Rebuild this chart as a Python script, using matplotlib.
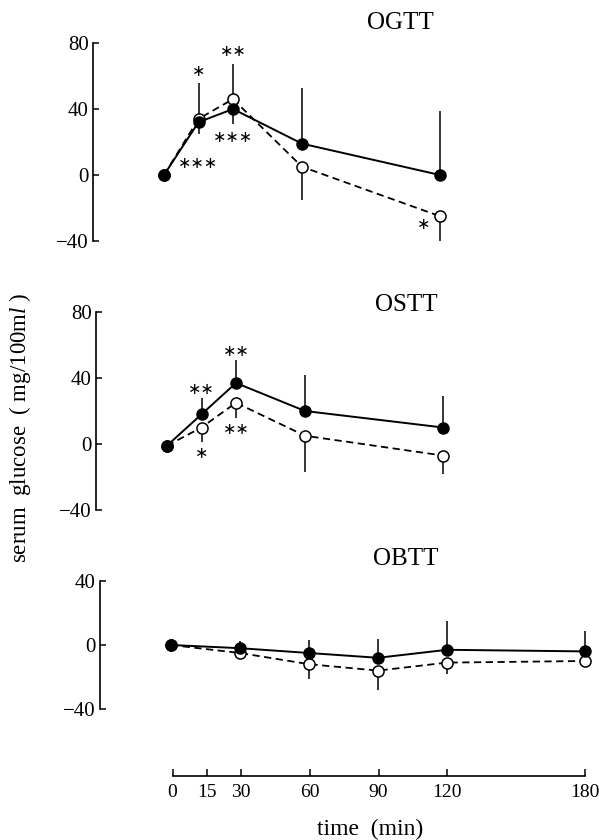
import matplotlib
matplotlib.use('Agg')
import matplotlib.pyplot as plt

plt.rcParams['font.family'] = ['Liberation Serif', 'DejaVu Serif']
plt.rcParams['mathtext.fontset'] = 'custom'
plt.rcParams['mathtext.rm'] = 'Liberation Serif'
plt.rcParams['mathtext.it'] = 'Liberation Serif:italic'

W, H = 599, 840

# OGTT
ogtt_time = [0, 15, 30, 60, 120]
ogtt_filled = [0, 32, 40, 19, 0]
ogtt_filled_up = [0, 24, 0, 34, 39]
ogtt_filled_down = [0, 0, 9, 0, 0]
ogtt_open = [0, 34, 46, 5, -25]
ogtt_open_up = [0, 0, 21, 0, 0]
ogtt_open_down = [0, 9, 0, 20, 16]

# OSTT
ostt_time = [0, 15, 30, 60, 120]
ostt_filled = [-1, 18, 37, 20, 10]
ostt_filled_up = [0, 10, 14, 22, 19]
ostt_open = [-1, 10, 25, 5, -7]
ostt_open_down = [0, 9, 9, 22, 11]

# OBTT
obtt_time = [0, 30, 60, 90, 120, 180]
obtt_filled = [0, -2, -5, -8, -3, -4]
obtt_filled_up = [0, 4.5, 8, 12, 18, 12.5]
obtt_open = [0, -5, -12, -16, -11, -10]
obtt_open_down = [0, 4, 9, 12, 7, 0]

# significance marks: (time, value, text)
ogtt_marks = [(15, 63, '∗'), (30, 75, '∗∗'), (30, 23, '∗∗∗'), (15, 7, '∗∗∗'), (113, -30, '∗')]
ostt_marks = [(15, 33, '∗∗'), (15, -5.5, '∗'), (30, 56, '∗∗'), (30, 8.5, '∗∗')]

time_ticks = [0, 15, 30, 60, 90, 120, 180]

fig = plt.figure(figsize=(W / 100, H / 100), dpi=100)

SX = 2.30  # px per minute
XLIM = (-31, 185)


def make_axes(x0_px, ylim, y_top_px, y_bot_px):
    left = x0_px + XLIM[0] * SX
    right = x0_px + XLIM[1] * SX
    ax = fig.add_axes([left / W, 1 - y_bot_px / H, (right - left) / W, (y_bot_px - y_top_px) / H])
    ax.set_xlim(*XLIM)
    ax.set_ylim(*ylim)
    for s in ['top', 'right', 'bottom']:
        ax.spines[s].set_visible(False)
    ax.spines['left'].set_linewidth(1.2)
    ax.set_xticks([])
    ax.tick_params(axis='y', direction='in', length=4, width=1.1, labelsize=15, pad=3)
    ax.patch.set_alpha(0)
    return ax


def draw(ax, t, filled, f_lo, f_hi, opn, o_lo, o_hi):
    ax.errorbar(t, filled, yerr=[f_lo, f_hi], fmt='none', ecolor='black', elinewidth=1.1, capsize=0, zorder=2)
    ax.errorbar(t, opn, yerr=[o_lo, o_hi], fmt='none', ecolor='black', elinewidth=1.1, capsize=0, zorder=2)
    ax.plot(t, opn, color='black', lw=1.3, ls=(0, (4, 2.5)), marker='o', ms=8,
            mfc='white', mec='black', mew=1.1, zorder=3)
    ax.plot(t, filled, color='black', lw=1.4, ls='-', marker='o', ms=8,
            mfc='black', mec='black', zorder=4)


def stars(ax, marks):
    for x, y, s in marks:
        ax.text(x, y, s, ha='center', va='center', fontsize=11.5, family=['DejaVu Sans'],
                clip_on=False)


zeros5 = [0] * 5
zeros6 = [0] * 6

ax1 = make_axes(164, (-40, 80), 43, 241)
ax1.set_yticks([-40, 0, 40, 80])
draw(ax1, ogtt_time, ogtt_filled, ogtt_filled_down, ogtt_filled_up,
     ogtt_open, ogtt_open_down, ogtt_open_up)
stars(ax1, ogtt_marks)
ax1.text(102.6, 92, 'OGTT', ha='center', va='center', fontsize=18, clip_on=False)

ax2 = make_axes(167, (-40, 80), 312, 510)
ax2.set_yticks([-40, 0, 40, 80])
draw(ax2, ostt_time, ostt_filled, zeros5, ostt_filled_up,
     ostt_open, ostt_open_down, zeros5)
stars(ax2, ostt_marks)
ax2.text(104, 84, 'OSTT', ha='center', va='center', fontsize=18, clip_on=False)

ax3 = make_axes(171, (-40, 40), 581, 709)
ax3.set_yticks([-40, 0, 40])
draw(ax3, obtt_time, obtt_filled, zeros6, obtt_filled_up,
     obtt_open, obtt_open_down, zeros6)
ax3.text(102, 54, 'OBTT', ha='center', va='center', fontsize=18, clip_on=False)

# shared time axis
axx = fig.add_axes([172.5 / W, 1 - 776 / H, 412 / W, 0.001])
axx.set_xlim(0, 180)
axx.set_ylim(0, 1)
for s in ['top', 'right', 'left']:
    axx.spines[s].set_visible(False)
axx.spines['bottom'].set_linewidth(1.2)
axx.set_yticks([])
axx.set_xticks(time_ticks)
axx.tick_params(axis='x', direction='in', length=5, width=1.1, labelsize=14, pad=6)
axx.patch.set_alpha(0)

fig.text(370 / W, 1 - 829 / H, 'time  (min)', ha='center', va='center', fontsize=17)
fig.text(20 / W, 1 - 428 / H, r'serum  glucose  ( mg/100m$\it{l}$ )', ha='center', va='center',
         rotation=90, fontsize=16.5)

fig.savefig('out.png', dpi=100)
